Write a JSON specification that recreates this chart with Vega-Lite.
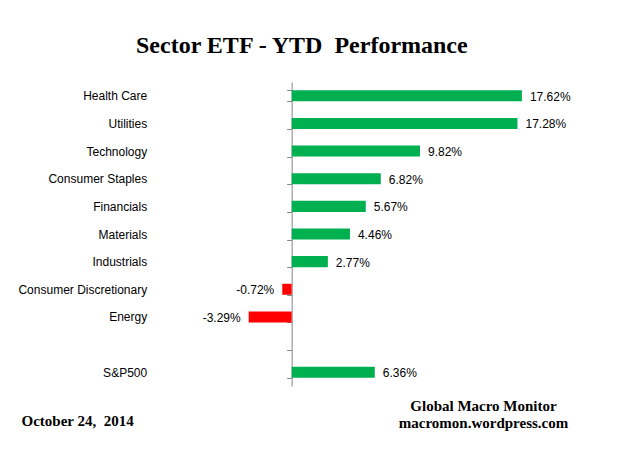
{
  "$schema": "https://vega.github.io/schema/vega-lite/v6.json",
  "autosize": {"type": "none"},
  "padding": {"left": 161, "top": 82, "right": 72, "bottom": 65},
  "width": 392,
  "height": 304,
  "background": "white",
  "title": {
    "text": "Sector ETF - YTD \u00a0Performance",
    "anchor": "start",
    "frame": "group",
    "dx": -25,
    "offset": -1,
    "baseline": "alphabetic",
    "font": "Liberation Serif",
    "fontSize": 24,
    "fontWeight": "bold",
    "color": "#000000"
  },
  "data": {
    "values": [
      {"sector": "Health Care", "v": 0.1762},
      {"sector": "Utilities", "v": 0.1728},
      {"sector": "Technology", "v": 0.0982},
      {"sector": "Consumer Staples", "v": 0.0682},
      {"sector": "Financials", "v": 0.0567},
      {"sector": "Materials", "v": 0.0446},
      {"sector": "Industrials", "v": 0.0277},
      {"sector": "Consumer Discretionary", "v": -0.0072},
      {"sector": "Energy", "v": -0.0329},
      {"sector": "S&P500", "v": 0.0636}
    ]
  },
  "encoding": {
    "y": {
      "field": "sector",
      "type": "nominal",
      "scale": {
        "domain": ["Health Care", "Utilities", "Technology", "Consumer Staples", "Financials", "Materials", "Industrials", "Consumer Discretionary", "Energy", " ", "S&P500"],
        "paddingInner": 0.6,
        "paddingOuter": 0.3
      },
      "axis": {
        "orient": "left",
        "offset": -130.67,
        "tickBand": "extent",
        "tickSize": 5,
        "tickColor": "#868686",
        "domainColor": "#868686",
        "labelPadding": 140,
        "labelFont": "Liberation Sans",
        "labelFontSize": 12,
        "labelColor": "#000000",
        "title": "October 24, \u00a02014",
        "titleAngle": 0,
        "titleAlign": "left",
        "titleBaseline": "alphabetic",
        "titleX": -270.7,
        "titleY": 343.7,
        "titleFont": "Liberation Serif",
        "titleFontSize": 15,
        "titleFontWeight": "bold",
        "titleColor": "#000000"
      }
    },
    "x": {
      "field": "v",
      "type": "quantitative",
      "scale": {"domain": [-0.1, 0.2], "nice": false, "zero": false},
      "axis": {
        "labels": false,
        "ticks": false,
        "domain": false,
        "grid": false,
        "title": ["Global Macro Monitor", "macromon.wordpress.com"],
        "titleAlign": "center",
        "titleBaseline": "alphabetic",
        "titleX": 322,
        "titleY": 24,
        "titleLineHeight": 17,
        "titleFont": "Liberation Serif",
        "titleFontSize": 15,
        "titleFontWeight": "bold",
        "titleColor": "#000000"
      }
    }
  },
  "layer": [
    {
      "mark": {"type": "bar"},
      "encoding": {
        "color": {"condition": {"test": "datum.v < 0", "value": "#FF0000"}, "value": "#00B050"}
      }
    },
    {
      "transform": [{"filter": "datum.v >= 0"}],
      "mark": {"type": "text", "align": "left", "baseline": "middle", "dx": 8, "dy": 1, "font": "Liberation Sans", "fontSize": 12, "color": "#000000"},
      "encoding": {"text": {"field": "v", "type": "quantitative", "format": ".2%"}}
    },
    {
      "transform": [{"filter": "datum.v < 0"}],
      "mark": {"type": "text", "align": "right", "baseline": "middle", "dx": -8, "dy": 1, "font": "Liberation Sans", "fontSize": 12, "color": "#000000"},
      "encoding": {"text": {"field": "v", "type": "quantitative", "format": ".2%"}}
    }
  ],
  "config": {
    "view": {"stroke": null},
    "locale": {
      "number": {
        "decimal": ".",
        "thousands": ",",
        "grouping": [3],
        "currency": ["$", ""],
        "minus": "-"
      }
    }
  }
}
